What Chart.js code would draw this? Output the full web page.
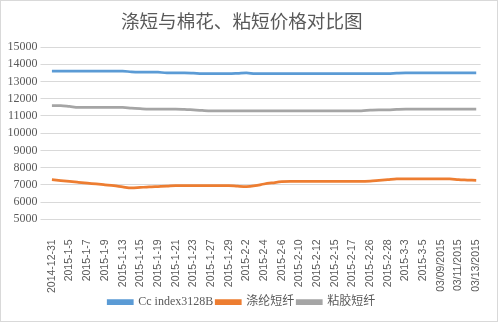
<!DOCTYPE html>
<html>
<head>
<meta charset="utf-8">
<script src="https://cdn.jsdelivr.net/npm/chart.js@4.4.0/dist/chart.umd.min.js"></script>
<style>
html,body{margin:0;padding:0;background:#fff;}
#wrap{position:relative;width:501px;height:324px;}
</style>
</head>
<body>
<div id="wrap"><canvas id="c" width="501" height="324"></canvas></div>
<script>
const categories = [
  "2014-12-31","2015-1-4","2015-1-5","2015-1-6","2015-1-7","2015-1-8","2015-1-9",
  "2015-1-12","2015-1-13","2015-1-14","2015-1-15","2015-1-16","2015-1-19","2015-1-20",
  "2015-1-21","2015-1-22","2015-1-23","2015-1-26","2015-1-27","2015-1-28","2015-1-29",
  "2015-1-30","2015-2-2","2015-2-3","2015-2-4","2015-2-5","2015-2-6","2015-2-9",
  "2015-2-10","2015-2-11","2015-2-12","2015-2-13","2015-2-15","2015-2-16","2015-2-17",
  "2015-2-25","2015-2-26","2015-2-27","2015-2-28","2015-3-2","2015-3-3","2015-3-4",
  "2015-3-5","2015-3-6","03/09/2015","03/10/2015","03/11/2015","03/12/2015","03/13/2015"
];
// shown x labels: every other category
const tickLabels = [
  "2014-12-31","2015-1-5","2015-1-7","2015-1-9","2015-1-13","2015-1-15","2015-1-19",
  "2015-1-21","2015-1-23","2015-1-27","2015-1-29","2015-2-2","2015-2-4","2015-2-6",
  "2015-2-10","2015-2-12","2015-2-15","2015-2-17","2015-2-26","2015-2-28","2015-3-3",
  "2015-3-5","03/09/2015","03/11/2015","03/13/2015"
];
const seriesNames = ["Cc index3128B", "涤纶短纤", "粘胶短纤"];
const ccIndex = [
  13600,13600,13600,13600,13600,13600,13600,13600,13600,13560,
  13550,13550,13540,13500,13500,13500,13480,13450,13450,13450,
  13450,13470,13500,13450,13450,13450,13450,13450,13450,13450,
  13450,13450,13450,13450,13450,13450,13450,13450,13450,13480,
  13500,13500,13500,13500,13500,13500,13500,13500,13500
];
const polyester = [
  7300,7250,7200,7150,7100,7050,7000,6950,6880,6820,
  6850,6880,6900,6920,6950,6950,6950,6950,6950,6950,
  6950,6920,6900,6950,7050,7120,7180,7200,7200,7200,
  7200,7200,7200,7200,7200,7200,7220,7260,7300,7340,
  7350,7350,7350,7350,7350,7350,7300,7280,7260
];
const viscose = [
  11600,11600,11550,11500,11500,11500,11500,11500,11500,11450,
  11420,11400,11400,11400,11400,11380,11350,11320,11300,11300,
  11300,11300,11300,11300,11300,11300,11300,11300,11300,11300,
  11300,11300,11300,11300,11300,11300,11330,11350,11350,11380,
  11400,11400,11400,11400,11400,11400,11400,11400,11400
];
const yMin = 5000, yMax = 15000, yStep = 1000;

const txt = '#595959';
const borderPlugin = {
  id: 'bg',
  beforeDraw(chart) {
    const ctx = chart.ctx;
    ctx.save();
    ctx.fillStyle = '#fff';
    ctx.fillRect(0, 0, chart.width, chart.height);
    ctx.strokeStyle = '#d9d9d9';
    ctx.lineWidth = 1;
    ctx.strokeRect(0.5, 0.5, 497, 321);
    ctx.restore();
  }
};

function ds(label, data, color) {
  return {
    label, data,
    borderColor: color, backgroundColor: color,
    borderWidth: 2.75, pointRadius: 0, cubicInterpolationMode: 'monotone', fill: false
  };
}

new Chart(document.getElementById('c'), {
  type: 'line',
  data: {
    labels: categories,
    datasets: [
      ds(seriesNames[0], ccIndex, '#5B9BD5'),
      ds(seriesNames[1], polyester, '#ED7D31'),
      ds(seriesNames[2], viscose, '#A5A5A5')
    ]
  },
  options: {
    responsive: false,
    animation: false,
    layout: { padding: { left: 0, right: 17.5, top: 0, bottom: 6 } },
    plugins: {
      title: {
        display: true,
        text: '涤短与棉花、粘短价格对比图',
        color: txt,
        font: { family: '"Noto Sans CJK SC", sans-serif', size: 18.6, weight: 'normal' },
        padding: { top: 10, bottom: 14.7 }
      },
      legend: {
        position: 'bottom',
        labels: {
          boxWidth: 24, boxHeight: 3, padding: 3, color: txt,
          font: { family: '"Liberation Serif", "Noto Sans CJK SC", serif', size: 12 }
        }
      },
      tooltip: { enabled: false }
    },
    scales: {
      x: {
        offset: true,
        grid: { display: false },
        border: { display: false },
        afterFit(scale) { scale.height = 73.7; },
        ticks: {
          autoSkip: false, minRotation: 90, maxRotation: 90, padding: 12,
          color: txt,
          font: { family: '"Liberation Sans", sans-serif', size: 10.5 },
          callback(value, index) {
            const lab = this.getLabelForValue(value);
            return tickLabels.includes(lab) ? lab : null;
          }
        }
      },
      y: {
        min: yMin, max: yMax,
        afterFit(scale) { scale.width = 47.5; },
        grid: { color: '#d9d9d9', lineWidth: 1, drawTicks: true, tickLength: 7, tickColor: '#d9d9d9' },
        border: { display: false },
        ticks: {
          stepSize: yStep, autoSkip: false, padding: 3, color: txt,
          font: { family: '"Liberation Serif", serif', size: 12 },
          callback(value) { return String(value); }
        }
      }
    }
  },
  plugins: [borderPlugin]
});
</script>
</body>
</html>
